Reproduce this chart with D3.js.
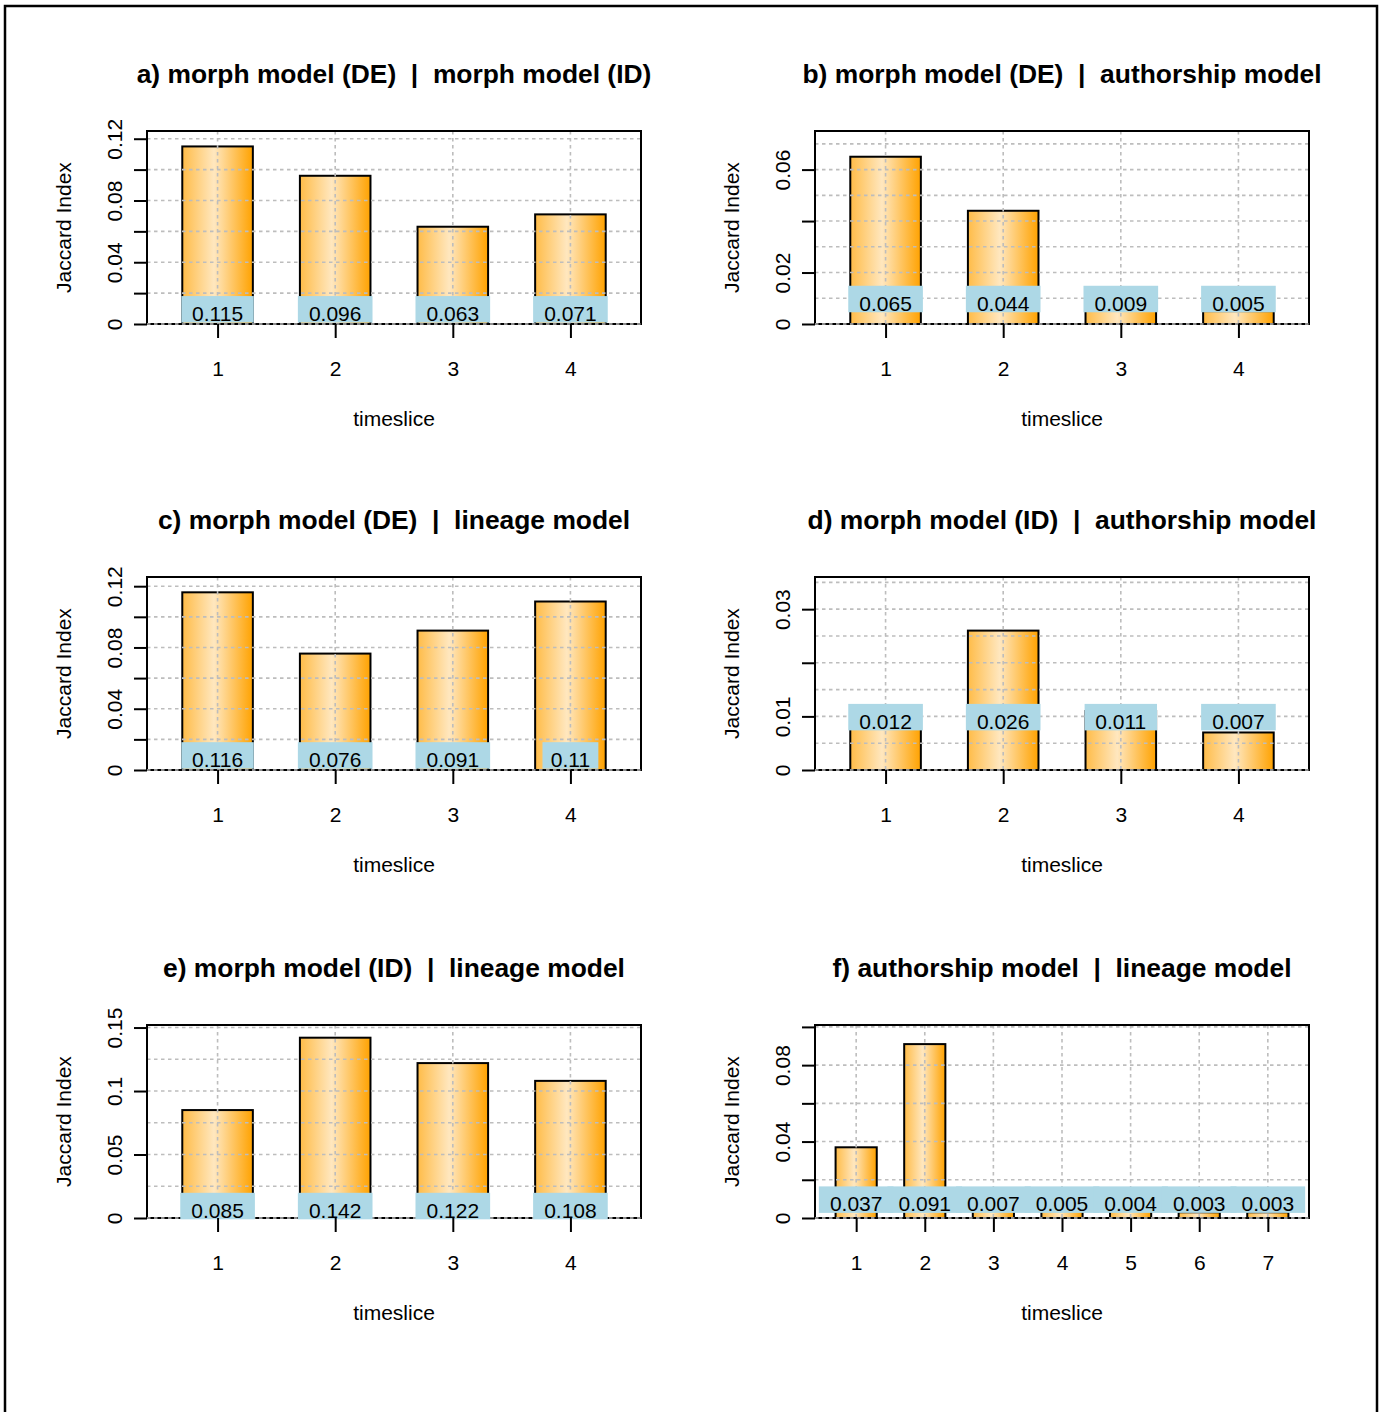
<!DOCTYPE html>
<html>
<head>
<meta charset="utf-8">
<script src="https://cdn.jsdelivr.net/npm/d3@7"></script>
<style>
  html, body { margin: 0; padding: 0; background: #fff; }
  svg { display: block; }
  text { font-family: "Liberation Sans", Arial, Helvetica, sans-serif; fill: #000; }
</style>
</head>
<body>
<svg id="chart" width="1383" height="1412"></svg>
<script>
// ---------- data ----------
const panelTitles = [
  "a) morph model (DE)  |  morph model (ID)",
  "b) morph model (DE)  |  authorship model",
  "c) morph model (DE)  |  lineage model",
  "d) morph model (ID)  |  authorship model",
  "e) morph model (ID)  |  lineage model",
  "f) authorship model  |  lineage model"
];
const timeslices4 = [1, 2, 3, 4];
const timeslices7 = [1, 2, 3, 4, 5, 6, 7];
const valuesA = [0.115, 0.096, 0.063, 0.071];
const valuesB = [0.065, 0.044, 0.009, 0.005];
const valuesC = [0.116, 0.076, 0.091, 0.11];
const valuesD = [0.012, 0.026, 0.011, 0.007];
const valuesE = [0.085, 0.142, 0.122, 0.108];
const valuesF = [0.037, 0.091, 0.007, 0.005, 0.004, 0.003, 0.003];
// y tick positions and the ones carrying a label
const yTicksA = [0, 0.02, 0.04, 0.06, 0.08, 0.10, 0.12];
const yTicksB = [0, 0.02, 0.04, 0.06];
const yTicksC = [0, 0.02, 0.04, 0.06, 0.08, 0.10, 0.12];
const yTicksD = [0, 0.01, 0.02, 0.03];
const yTicksE = [0, 0.05, 0.10, 0.15];
const yTicksF = [0, 0.02, 0.04, 0.06, 0.08, 0.10];
const yLabelsA = ["0", "0.04", "0.08", "0.12"];
const yLabelsB = ["0", "0.02", "0.06"];
const yLabelsC = ["0", "0.04", "0.08", "0.12"];
const yLabelsD = ["0", "0.01", "0.03"];
const yLabelsE = ["0", "0.05", "0.1", "0.15"];
const yLabelsF = ["0", "0.04", "0.08"];
// horizontal grid spacing
const gridSteps = [0.02, 0.01, 0.02, 0.005, 0.025, 0.02];
const xAxisTitle = "timeslice";
const yAxisTitle = "Jaccard Index";
const ylimPad = 0.01;      // ylim = max + pad
const labelLevel = 0.01;   // value labels sit at this y

const panels = [
  {title: panelTitles[0], cats: timeslices4, vals: valuesA, ticks: yTicksA, labels: yLabelsA, grid: gridSteps[0]},
  {title: panelTitles[1], cats: timeslices4, vals: valuesB, ticks: yTicksB, labels: yLabelsB, grid: gridSteps[1]},
  {title: panelTitles[2], cats: timeslices4, vals: valuesC, ticks: yTicksC, labels: yLabelsC, grid: gridSteps[2]},
  {title: panelTitles[3], cats: timeslices4, vals: valuesD, ticks: yTicksD, labels: yLabelsD, grid: gridSteps[3]},
  {title: panelTitles[4], cats: timeslices4, vals: valuesE, ticks: yTicksE, labels: yLabelsE, grid: gridSteps[4]},
  {title: panelTitles[5], cats: timeslices7, vals: valuesF, ticks: yTicksF, labels: yLabelsF, grid: gridSteps[5]}
];

// ---------- layout ----------
const svg = d3.select("#chart");
const colLeft = [147, 815];
const rowTop = [131, 577, 1025];
const plotW = 494, plotH = 193;
const fontSize = 21;

svg.append("rect").attr("x", 5).attr("y", 6).attr("width", 1372).attr("height", 1430)
  .attr("fill", "none").attr("stroke", "#000").attr("stroke-width", 2.5);

const defs = svg.append("defs");
const grad = defs.append("linearGradient").attr("id", "barGrad")
  .attr("x1", "0%").attr("x2", "100%").attr("y1", "0%").attr("y2", "0%");
grad.append("stop").attr("offset", "0%").attr("stop-color", "#FFBC48");
grad.append("stop").attr("offset", "45%").attr("stop-color", "#FFE7BF");
grad.append("stop").attr("offset", "100%").attr("stop-color", "#FFA200");

panels.forEach((p, i) => {
  const left = colLeft[i % 2], top = rowTop[Math.floor(i / 2)];
  const n = p.cats.length;
  const x = d3.scaleLinear().domain([0.4, n + 0.6]).range([left, left + plotW]);
  const y = d3.scaleLinear().domain([0, d3.max(p.vals) + ylimPad]).range([top + plotH, top]);
  const g = svg.append("g");

  // bars
  g.selectAll("rect.bar").data(p.vals).enter().append("rect")
    .attr("class", "bar")
    .attr("x", (d, k) => x(p.cats[k] - 0.3))
    .attr("width", x(0.6) - x(0))
    .attr("y", d => y(d))
    .attr("height", d => y(0) - y(d))
    .attr("fill", "url(#barGrad)")
    .attr("stroke", "#000").attr("stroke-width", 2);

  // grid
  const gridVals = d3.range(0, y.domain()[1] + 1e-9, p.grid);
  g.selectAll("line.hg").data(gridVals).enter().append("line")
    .attr("x1", left).attr("x2", left + plotW)
    .attr("y1", d => y(d)).attr("y2", d => y(d))
    .attr("stroke", "#BDBDBD").attr("stroke-width", 1.6).attr("stroke-dasharray", "3.5,3.5");
  g.selectAll("line.vg").data(p.cats).enter().append("line")
    .attr("x1", d => x(d)).attr("x2", d => x(d))
    .attr("y1", top).attr("y2", top + plotH)
    .attr("stroke", "#BDBDBD").attr("stroke-width", 1.6).attr("stroke-dasharray", "3.5,3.5");

  // box
  g.append("rect").attr("x", left).attr("y", top).attr("width", plotW).attr("height", plotH)
    .attr("fill", "none").attr("stroke", "#000").attr("stroke-width", 2);
  g.append("line").attr("x1", left).attr("x2", left + plotW)
    .attr("y1", y(0)).attr("y2", y(0))
    .attr("stroke", "#BDBDBD").attr("stroke-width", 1.6).attr("stroke-dasharray", "3.5,3.5");

  // value labels
  const lab = g.selectAll("g.lab").data(p.vals).enter().append("g").attr("class", "lab");
  lab.each(function(d, k) {
    const el = d3.select(this);
    const cx = x(p.cats[k]);
    const base = y(labelLevel) + 12.5;
    const r = el.append("rect");
    const t = el.append("text").attr("x", cx).attr("y", base)
      .attr("text-anchor", "middle").attr("font-size", fontSize).text(String(d));
    const tw = t.node().getComputedTextLength() * 1.42;
    r.attr("x", cx - tw / 2).attr("width", tw)
      .attr("y", base - 25).attr("height", 26.5).attr("fill", "#ADD8E6");
  });

  // y axis
  const ya = g.append("g").attr("transform", `translate(${left},0)`)
    .call(d3.axisLeft(y).tickValues(p.ticks).tickSize(13).tickPadding(0)
      .tickFormat(d => { const s = d3.format("~g")(+d.toFixed(4)); return p.labels.includes(s) ? s : ""; }));
  ya.select(".domain").remove();
  ya.selectAll(".tick line").attr("stroke", "#000").attr("stroke-width", 2);
  ya.selectAll(".tick text")
    .attr("x", 0).attr("y", -32).attr("dy", "0.35em")
    .attr("text-anchor", "middle").attr("transform", "rotate(-90)")
    .attr("font-size", fontSize).attr("font-family", null).attr("fill", "#000");

  // x axis
  const xa = g.append("g").attr("transform", `translate(0,${top + plotH})`)
    .call(d3.axisBottom(x).tickValues(p.cats).tickSize(14).tickFormat(d3.format("d")));
  xa.select(".domain").remove();
  xa.selectAll(".tick line").attr("stroke", "#000").attr("stroke-width", 2);
  xa.selectAll(".tick text").attr("y", 45).attr("dy", "0.35em")
    .attr("font-size", fontSize).attr("font-family", null).attr("fill", "#000");

  // axis titles
  g.append("text").attr("x", left + plotW / 2).attr("y", top + plotH + 95).attr("dy", "0.35em")
    .attr("text-anchor", "middle").attr("font-size", fontSize).text(xAxisTitle);
  g.append("text")
    .attr("transform", `translate(${left - 83},${top + plotH / 2}) rotate(-90)`)
    .attr("dy", "0.35em").attr("text-anchor", "middle").attr("font-size", fontSize).text(yAxisTitle);

  // title
  g.append("text").attr("x", left + plotW / 2).attr("y", top - 57.5).attr("dy", "0.35em")
    .attr("text-anchor", "middle").attr("font-size", 26.4).attr("font-weight", "bold")
    .style("white-space", "pre").text(p.title);
});
</script>
</body>
</html>
